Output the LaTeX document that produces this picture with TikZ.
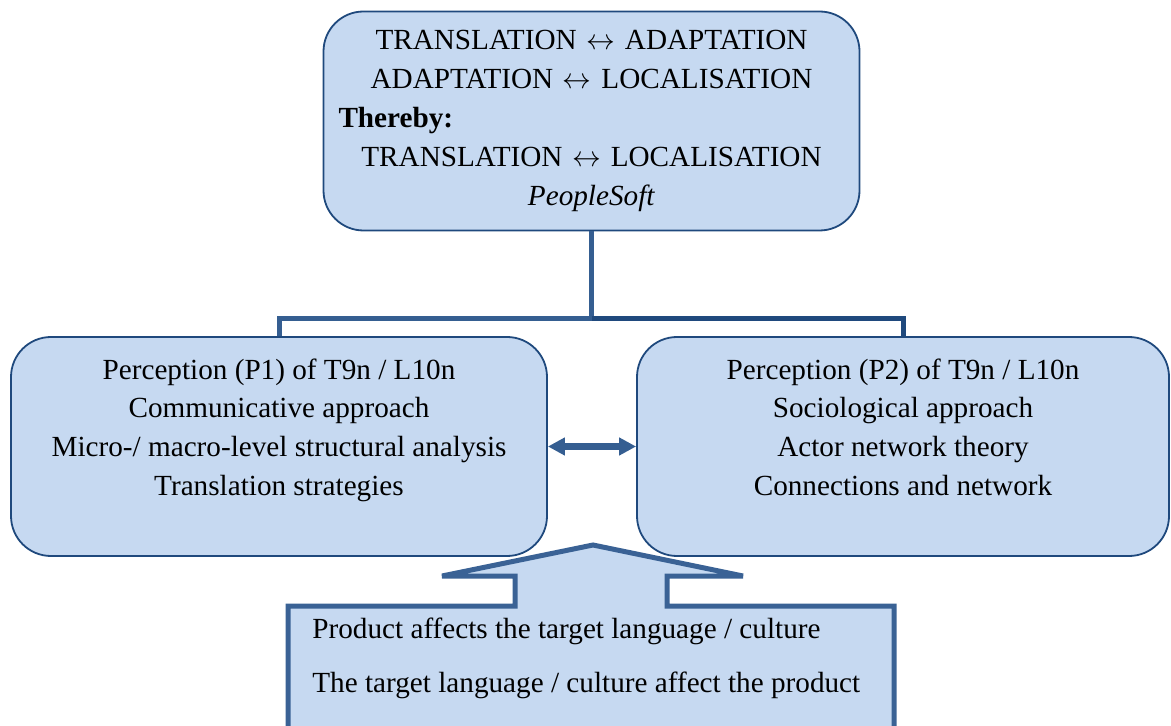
\documentclass[tikz,border=0pt]{standalone}
\usepackage{fontspec}
\setmainfont{Liberation Serif}
\usepackage{tikz}
\usetikzlibrary{arrows.meta,positioning}
\definecolor{boxfill}{HTML}{C6D9F1}
\definecolor{boxline}{HTML}{1F497D}
\definecolor{linkblue}{HTML}{355E91}
\definecolor{linkdark}{HTML}{1F497D}
\definecolor{calloutline}{HTML}{3A6295}

\begin{document}
\begin{tikzpicture}[x=0.5pt,y=-0.5pt,
    bigbox/.style={draw=boxline,line width=0.9pt,fill=boxfill,rounded corners=20pt,minimum width=268pt,minimum height=109.5pt,align=center,font=\fontsize{14.6}{19.4}\selectfont},
    effect/.style={anchor=base west,inner sep=0pt,font=\fontsize{14.6}{19.4}\selectfont},
    link/.style={line width=2.5pt},
    >={Triangle[length=8.5pt,width=8.5pt]}
  ]
  \useasboundingbox (0,0) rectangle (1171,726);
  \clip (0,0) rectangle (1171,726);

  \node[bigbox,text width=253pt] (top) at (591.5,121) {TRANSLATION $\leftrightarrow$ ADAPTATION\\ ADAPTATION $\leftrightarrow$ LOCALISATION\\ \makebox[253pt][l]{\textbf{Thereby:}}\\ TRANSLATION $\leftrightarrow$ LOCALISATION\\ \textit{PeopleSoft}};
  \node[bigbox] (p1) at (279,446.5) {Perception (P1) of T9n / L10n\\ Communicative approach\\ Micro-/ macro-level structural analysis\\ Translation strategies\\ ~};
  \node[bigbox,minimum width=266pt] (p2) at (903,446.5) {Perception (P2) of T9n / L10n\\ Sociological approach\\ Actor network theory\\ Connections and network\\ ~};

  \path (top.south) ++(0,87) coordinate (split);
  \draw[link,draw=linkblue] (top.south) -- (split) -| (p1.north);
  \draw[link,draw=linkdark] (split) -| (p2.north);

  \draw[<->,line width=3.5pt,draw=linkblue,fill=linkblue] (p1.east) -- (p2.west);

  \draw[line width=2.5pt,miter limit=2,draw=calloutline,fill=boxfill] (288,760) -- (288,606) -- (515,606) -- (515,576) -- (442,576) -- (593,545) -- (743,576) -- (667,576) -- (667,606) -- (894,606) -- (894,760) -- cycle;
  \node[effect] (effect1) at (312,638) {Product affects the target language / culture};
  \node[effect] (effect2) at (312,692) {The target language / culture affect the product};
\end{tikzpicture}
\end{document}
